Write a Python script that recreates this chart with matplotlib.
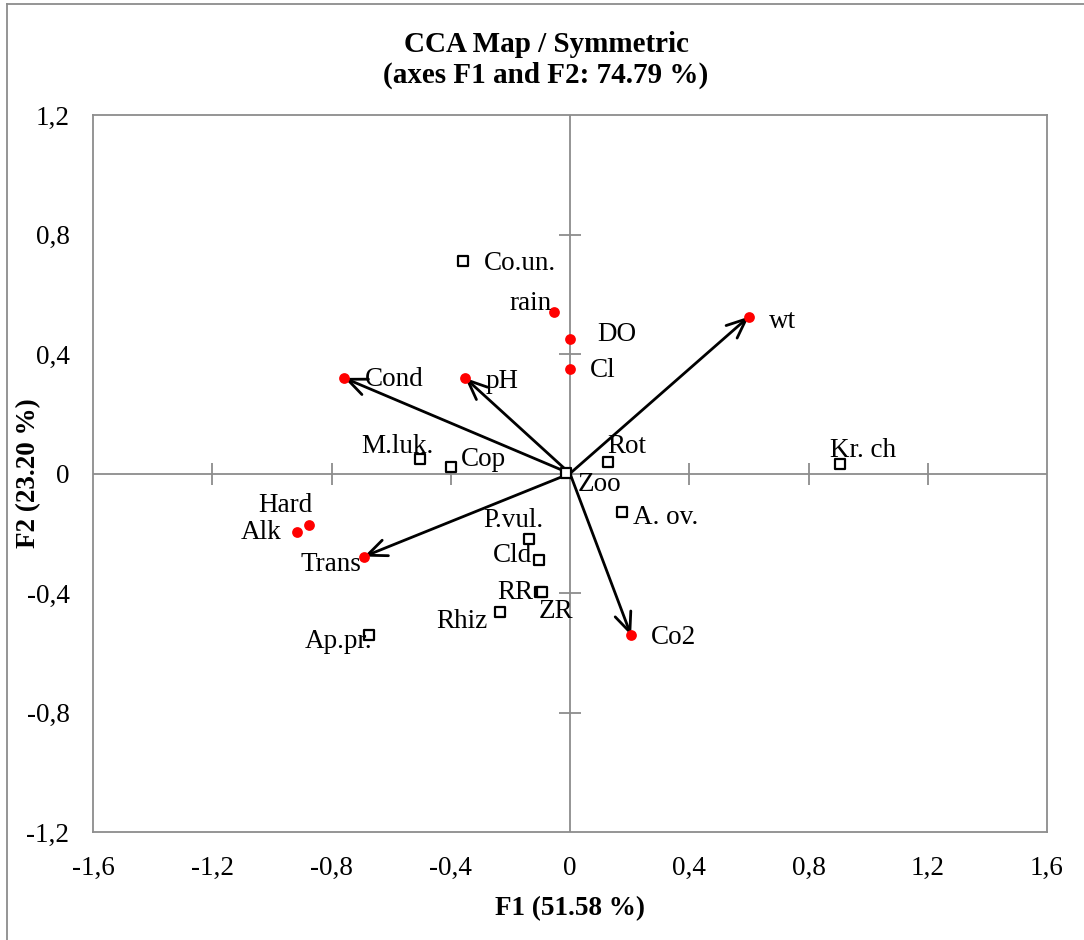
import numpy as np
import matplotlib
matplotlib.use("Agg")
import matplotlib.pyplot as plt
from matplotlib.ticker import FuncFormatter
from matplotlib.lines import Line2D

plt.rcParams['font.family'] = ['Liberation Serif', 'DejaVu Serif']

# -----------------------------
# Data
# -----------------------------
env_names = ["wt", "rain", "DO", "Cl", "Cond", "pH", "Hard", "Alk", "Trans", "Co2"]
env_x = [0.60, -0.054, 0.0, 0.0, -0.758, -0.352, -0.876, -0.916, -0.691, 0.205]
env_y = [0.525, 0.54, 0.449, 0.35, 0.32, 0.32, -0.171, -0.197, -0.278, -0.542]
arrow_vars = ["Cond", "pH", "wt", "Trans", "Co2"]

sp_names = ["Co.un.", "M.luk.", "Cop", "Rot", "Kr. ch", "Zoo", "A. ov.", "P.vul.",
            "Cld", "RR", "ZR", "Rhiz", "Ap.pr."]
sp_x = [-0.359, -0.503, -0.40, 0.128, 0.906, -0.012, 0.174, -0.138,
        -0.104, -0.102, -0.094, -0.235, -0.674]
sp_y = [0.71, 0.047, 0.023, 0.04, 0.033, 0.002, -0.13, -0.218,
        -0.288, -0.396, -0.398, -0.465, -0.539]

# label offsets in pixels (dx, dy, ha)
env_lab = {
    "wt": (20, -5, "left"), "rain": (-2, 9, "right"), "DO": (27, 5, "left"),
    "Cl": (20, -2, "left"), "Cond": (21, -2, "left"), "pH": (21, -4, "left"),
    "Hard": (-23, 19, "center"), "Alk": (-15, 0, "right"),
    "Trans": (-3, -8, "right"), "Co2": (20, -2, "left"),
}
sp_lab = {
    "Co.un.": (21, -2, "left"), "M.luk.": (13, 13, "right"), "Cop": (10, 7, "left"),
    "Rot": (-1, 15, "left"), "Kr. ch": (-10, 13, "left"), "Zoo": (11, -12, "left"),
    "A. ov.": (11, -5, "left"), "P.vul.": (15, 18, "right"), "Cld": (-7, 4, "right"),
    "RR": (-6, -1, "right"), "ZR": (-3, -19, "left"), "Rhiz": (-12, -9, "right"),
    "Ap.pr.": (3, -7, "right"),
}


def comma_fmt(v, pos):
    if abs(v) < 1e-9:
        return "0"
    return ("%.1f" % v).replace(".", ",")


fig = plt.figure(figsize=(10.84, 9.4), dpi=100)
ax = fig.add_axes([93 / 1084, 108 / 940, 954 / 1084, 717 / 940])

ax.set_xlim(-1.6, 1.6)
ax.set_ylim(-1.2, 1.2)
ax.set_xticks(np.arange(-1.6, 1.61, 0.4))
ax.set_yticks(np.arange(-1.2, 1.21, 0.4))
ax.xaxis.set_major_formatter(FuncFormatter(comma_fmt))
ax.yaxis.set_major_formatter(FuncFormatter(comma_fmt))
ax.tick_params(length=0, labelsize=19.5)
ax.tick_params(axis="x", pad=17)
ax.tick_params(axis="y", pad=17)
for s in ax.spines.values():
    s.set_color("#8c8c8c")
    s.set_linewidth(1.3)

# central axes with tick marks
ax.axhline(0, color="#8c8c8c", lw=1.3, zorder=1)
ax.axvline(0, color="#8c8c8c", lw=1.3, zorder=1)
xt = [-1.2, -0.8, -0.4, 0.4, 0.8, 1.2]
yt = [-0.8, -0.4, 0.4, 0.8]
ax.plot(xt, [0] * len(xt), ls="none", marker="|", ms=16, mew=1.3, color="#8c8c8c", zorder=1)
ax.plot([0] * len(yt), yt, ls="none", marker="_", ms=16, mew=1.3, color="#8c8c8c", zorder=1)

# arrows
for name in arrow_vars:
    i = env_names.index(name)
    ax.annotate("", xy=(env_x[i], env_y[i]), xytext=(0, 0),
                arrowprops=dict(arrowstyle="->,head_length=1.4,head_width=0.6",
                                lw=2, color="black", shrinkA=0, shrinkB=0), zorder=3)

ax.scatter(env_x, env_y, s=60, color="#ff0000", zorder=4, linewidths=0)
ax.scatter(sp_x, sp_y, s=42, marker="s", facecolor="white", edgecolor="black",
           linewidths=1.6, zorder=4)

for n, x, y in zip(env_names, env_x, env_y):
    dx, dy, ha = env_lab[n]
    ax.annotate(n, (x, y), xytext=(dx, dy), textcoords="offset pixels",
                ha=ha, va="center", fontsize=19.5, zorder=5)
for n, x, y in zip(sp_names, sp_x, sp_y):
    dx, dy, ha = sp_lab[n]
    ax.annotate(n, (x, y), xytext=(dx, dy), textcoords="offset pixels",
                ha=ha, va="center", fontsize=19.5, zorder=5)

ax.set_xlabel("F1 (51.58 %)", fontsize=19.5, fontweight="bold")
ax.xaxis.set_label_coords(0.5, -(909 - 832) / 717, transform=ax.transAxes)
ax.set_ylabel("F2 (23.20 %)", fontsize=19.5, fontweight="bold")
ax.yaxis.set_label_coords(-(93 - 29) / 954, 0.5, transform=ax.transAxes)
ax.xaxis.label.set_va("center")
ax.yaxis.label.set_va("center")
fig.text(546 / 1084, 1 - 60 / 940, "CCA Map / Symmetric\n(axes F1 and F2: 74.79 %)",
         ha="center", va="center", fontsize=21, fontweight="bold", linespacing=1.15)

# outer chart border
fig.add_artist(Line2D([7 / 1084, 7 / 1084], [0, 1 - 4 / 940], color="#8c8c8c", lw=1.3))
fig.add_artist(Line2D([7 / 1084, 1], [1 - 4 / 940, 1 - 4 / 940], color="#8c8c8c", lw=1.3))

fig.savefig("out.png", dpi=100)
